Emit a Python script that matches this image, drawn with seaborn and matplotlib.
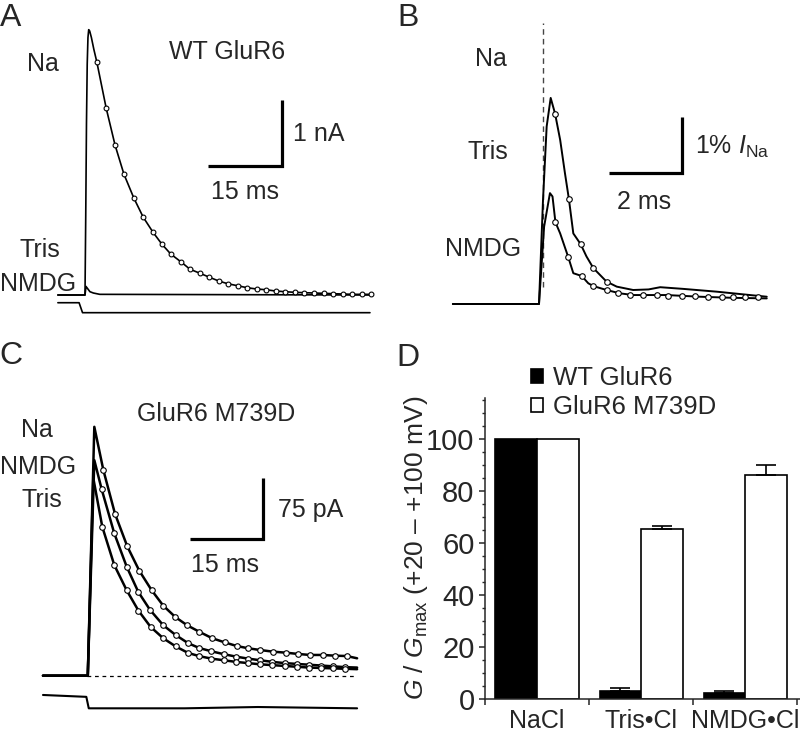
import matplotlib
matplotlib.use("Agg")
import matplotlib.pyplot as plt
import seaborn as sns
import pandas as pd

# ---- Panel A: WT GluR6 (time in ms, current in nA) ----
a_rise_t = [-5.5, 0.0, 0.15, 0.3, 0.45, 0.6, 0.75, 0.95, 1.3, 1.8]
a_rise_i = [0.0, 0.0, 1.2, 2.6, 3.5, 3.9, 4.02, 4.0, 3.9, 3.72]
a_fit_t = [2.4, 4.3, 6.1, 7.9, 9.9, 11.8, 13.8, 15.6, 17.4, 19.5, 21.3, 23.3, 25.2,
           27.2, 29.0, 31.0, 32.9, 34.9, 36.7, 38.7, 40.6, 42.6, 44.5, 46.5, 48.4,
           50.3, 52.3, 54.2, 56.2, 58.0]
a_fit_i = [3.53, 2.83, 2.27, 1.83, 1.47, 1.18, 0.95, 0.77, 0.62, 0.50, 0.39, 0.33, 0.27,
           0.21, 0.17, 0.14, 0.11, 0.09, 0.08, 0.06, 0.05, 0.04, 0.035, 0.03, 0.025,
           0.02, 0.015, 0.01, 0.01, 0.01]
a_tris_t = [-5.5, 0.0, 0.2, 0.5, 1.0, 1.7, 3.0, 58.0]
a_tris_i = [0.0, 0.0, 0.13, 0.10, 0.05, 0.03, 0.01, 0.0]
a_junc_t = [-5.5, -1.2, -0.5, 57.8]
a_junc_i = [-0.117, -0.117, -0.268, -0.268]

# ---- Panel B: zoom on Tris / NMDG (time in ms, % of I_Na) ----
b_tris_t = [-2.36, 0.0, 0.11, 0.21, 0.32, 0.44, 0.58, 0.71, 0.82, 0.94, 1.14, 1.30,
            1.49, 1.85, 2.13, 2.58, 3.0, 3.32, 3.95, 4.87, 5.78, 6.24]
b_tris_i = [0.0, 0.0, 1.86, 3.17, 3.68, 3.40, 2.93, 2.34, 1.87, 1.26, 1.07, 0.85,
            0.64, 0.40, 0.31, 0.25, 0.26, 0.30, 0.27, 0.22, 0.16, 0.13]
b_tris_fit_t = [0.44, 0.82, 1.14, 1.49, 1.85]
b_tris_fit_i = [3.40, 1.87, 1.07, 0.64, 0.40]
b_nmdg_t = [-2.36, 0.0, 0.14, 0.30, 0.37, 0.45, 0.58, 0.80, 0.94, 1.17, 1.35, 1.49,
            1.85, 2.22, 2.58, 3.49, 4.41, 5.32, 6.24]
b_nmdg_i = [0.0, 0.0, 1.38, 1.98, 1.92, 1.46, 1.26, 0.84, 0.55, 0.50, 0.37, 0.32,
            0.25, 0.19, 0.16, 0.16, 0.13, 0.11, 0.10]
b_nmdg_fit_t = [0.45, 0.80, 1.17, 1.49, 1.85, 2.17, 2.49, 2.86, 3.22, 3.54, 3.91,
                4.27, 4.64, 5.00, 5.32, 5.64, 6.01]
b_nmdg_fit_i = [1.46, 0.84, 0.50, 0.32, 0.25, 0.19, 0.16, 0.16, 0.16, 0.15, 0.14,
                0.14, 0.13, 0.13, 0.13, 0.13, 0.13]

# ---- Panel C: GluR6 M739D (time in ms, current in pA) ----
c_na_t = [-9.1, 0.1, 1.44, 3.29, 5.69, 8.21, 10.68, 13.22, 15.61, 18.1, 20.5, 23.0,
          25.67, 28.2, 30.68, 33.06, 35.46, 38.19, 40.80, 43.33, 45.73, 48.34, 50.86,
          53.26, 55.4]
c_na_i = [0, 0, 306, 253, 199, 159, 129, 105, 86, 72, 62, 54,
          46, 41, 36.5, 33.7, 31.6, 29.5, 28.3, 26.7, 25.5, 25.5, 24.6,
          24.2, 21.4]
c_nmdg_t = [-9.1, 0.1, 1.44, 2.96, 5.54, 8.09, 10.47, 12.87, 15.6, 18.15, 20.7, 23.0,
            25.5, 28.0, 30.5, 33.0, 35.5, 38.0, 40.5, 43.0, 45.5, 48.0, 50.5, 53.0, 55.4]
c_nmdg_i = [0, 0, 265, 229, 175, 134, 103, 81, 62, 50, 40, 34,
            30, 26.5, 23.5, 21, 19, 17, 15.5, 14.5, 13.5, 12.5, 11.5, 10.5, 10]
c_tris_t = [-9.1, 0.1, 1.23, 3.08, 5.54, 8.09, 10.5, 13.0, 15.6, 18.15, 20.7, 23.0,
            25.5, 28.0, 30.5, 33.0, 35.5, 38.0, 40.5, 43.0, 45.5, 48.0, 50.5, 53.0, 55.4]
c_tris_i = [0, 0, 243, 183, 136, 105, 80, 60, 46, 36, 28, 24,
            21, 19, 17, 15.5, 14, 13, 12, 11, 10, 9.5, 9, 8.5, 8]
c_junc_t = [-9.1, -0.2, 0.3, 20.0, 35.0, 55.4]
c_junc_i = [-23.7, -26.0, -40.1, -40.1, -38.5, -40.1]

# ---- Panel D: relative conductance ----
conditions = ["NaCl", "Tris•Cl", "NMDG•Cl"]
wt_mean = [100, 3.2, 2.3]
wt_err = [0, 1.0, 0.9]
mut_mean = [100, 65.3, 86.0]
mut_err = [0, 1.4, 3.9]

sns.set_style("ticks")
plt.rcParams["font.family"] = ["Liberation Sans", "DejaVu Sans"]
plt.rcParams["mathtext.fontset"] = "custom"
plt.rcParams["mathtext.rm"] = "Liberation Sans"
plt.rcParams["mathtext.it"] = "Liberation Sans:italic"
plt.rcParams["mathtext.bf"] = "Liberation Sans:bold"

W, H = 800, 734
fig = plt.figure(figsize=(W / 100, H / 100), dpi=100)


def panel(left, top, right, bottom, x0, y0, px_x, px_y):
    # pixel box of the panel, pixel position of data origin, pixels per data unit
    ax = fig.add_axes([left / W, 1 - bottom / H, (right - left) / W, (bottom - top) / H])
    ax.set_xlim((left - x0) / px_x, (right - x0) / px_x)
    ax.set_ylim((y0 - bottom) / px_y, (y0 - top) / px_y)
    ax.axis("off")
    return ax


def label(x, y, s, size=18, ha="center"):
    # y is the middle of the capitals, in pixels from the top
    base = y + 0.36 * size * 100 / 72
    fig.text(x / W, 1 - base / H, s, fontsize=size, ha=ha, va="baseline")


def trace(ax, t, i, lw=1.2):
    sns.lineplot(x=t, y=i, ax=ax, color="black", lw=lw, sort=False, estimator=None)


def fit_points(ax, t, i, s=10):
    sns.scatterplot(x=t, y=i, ax=ax, marker="o", s=s, facecolor="white",
                    edgecolor="black", linewidth=0.8, zorder=3)


def scalebar(ax, x0, y0, dx, dy):
    ax.plot([x0, x0 + dx, x0 + dx], [y0, y0, y0 + dy], color="black", lw=2.3,
            solid_joinstyle="miter", solid_capstyle="butt")


# Panel A
ax_a = panel(0, 0, 400, 330, 85, 295, 4.93, 66)
trace(ax_a, a_rise_t + a_fit_t, a_rise_i + a_fit_i)
fit_points(ax_a, a_fit_t, a_fit_i, s=12)
trace(ax_a, a_tris_t, a_tris_i)
trace(ax_a, a_junc_t, a_junc_i)
scalebar(ax_a, 24.95, 1.955, 15, 1)
label(11, 14, "A", size=23)
label(43, 62, "Na")
label(227, 50, "WT GluR6")
label(293, 132, "1 nA", ha="left")
label(245, 190, "15 ms")
label(40, 248, "Tris")
label(38, 282, "NMDG")

# Panel B
ax_b = panel(400, 0, 800, 330, 539, 304, 36.5, 56)
ax_b.vlines(0.11, 0.3, 5.02, color="#444444", lw=1.0, linestyles=(0, (4, 3)))
trace(ax_b, b_tris_t, b_tris_i, lw=1.4)
trace(ax_b, b_nmdg_t, b_nmdg_i, lw=1.4)
fit_points(ax_b, b_tris_fit_t, b_tris_fit_i, s=16)
fit_points(ax_b, b_nmdg_fit_t, b_nmdg_fit_i, s=16)
scalebar(ax_b, 1.918, 2.339, 2, 1)
label(408, 14, "B", size=23)
label(491, 57, "Na")
label(488, 150, "Tris")
label(483, 247, "NMDG")
label(695, 145, r"1% $I_{\rm Na}$", ha="left")
label(644, 200, "2 ms")

# Panel C
ax_c = panel(0, 360, 400, 734, 87.3, 675.7, 4.87, 61 / 75)
ax_c.hlines(0, 0, 55.4, color="black", lw=0.9, linestyles=(0, (3, 3)))
for t, i in [(c_na_t, c_na_i), (c_nmdg_t, c_nmdg_i), (c_tris_t, c_tris_i)]:
    trace(ax_c, t, i, lw=1.8)
    fit_points(ax_c, t[3:-1], i[3:-1], s=16)
trace(ax_c, c_junc_t, c_junc_i, lw=1.5)
scalebar(ax_c, 21.09, 168.1, 15, 75)
label(11, 353, "C", size=23)
label(216, 412, "GluR6 M739D")
label(37, 428, "Na")
label(38, 465, "NMDG")
label(42, 498, "Tris")
label(278, 508, "75 pA", ha="left")
label(225, 563, "15 ms")

# Panel D
ax_d = fig.add_axes([485 / W, 1 - 699.3 / H, (800 - 485) / W, (699.3 - 398.3) / H])
df = pd.DataFrame({
    "cond": conditions * 2,
    "val": wt_mean + mut_mean,
    "group": ["WT GluR6"] * 3 + ["GluR6 M739D"] * 3,
})
sns.barplot(data=df, x="cond", y="val", hue="group", palette=["black", "white"],
            edgecolor="black", linewidth=1.2, width=0.8, errorbar=None,
            saturation=1, ax=ax_d)
for cont, errs in zip(ax_d.containers, [wt_err, mut_err]):
    for bar, e in zip(cont, errs):
        if e > 0:
            ax_d.errorbar(bar.get_x() + bar.get_width() / 2, bar.get_height(),
                          yerr=[[0], [e]], color="black", capsize=7.5,
                          elinewidth=1.2, capthick=1.2)

handles, labels = ax_d.get_legend_handles_labels()
ax_d.legend(handles, labels, loc="upper left", bbox_to_anchor=(531 / W, 1 - 366 / H),
            bbox_transform=fig.transFigure, frameon=False, fontsize=18.5,
            handlelength=0.45, handleheight=0.45, handletextpad=0.4,
            borderpad=0, borderaxespad=0, labelspacing=0.2)

ax_d.set_xlim(-0.5, 2.526)
ax_d.set_ylim(0, 115.6)
ax_d.set_xticks([-0.5, 0.5, 1.5, 2.5])
ax_d.set_xticklabels([])
ax_d.set_xticks([0, 1, 2], minor=True)
ax_d.set_xticklabels(conditions, minor=True)
ax_d.set_yticks([0, 20, 40, 60, 80, 100])
ax_d.set_yticks(list(range(5, 116, 5)), minor=True)
ax_d.tick_params(axis="x", which="major", direction="out", length=4, width=1.1)
ax_d.tick_params(axis="x", which="minor", length=0, labelsize=18, pad=7)
ax_d.tick_params(axis="y", which="major", direction="out", length=4.5, width=1.1,
                 labelsize=21, pad=3)
ax_d.tick_params(axis="y", which="minor", direction="out", length=2.5, width=1.0)
ax_d.set_xlabel("")
ax_d.set_ylabel("")
sns.despine(ax=ax_d)
for side in ["left", "bottom"]:
    ax_d.spines[side].set_linewidth(1.1)

fig.text(416 / W, 1 - 548 / H, r"$G$ / $G_{\rm max}$ (+20 – +100 mV)", fontsize=19,
         rotation=90, ha="center", va="center")
label(408, 354, "D", size=23)

fig.savefig("out.png", dpi=100)
